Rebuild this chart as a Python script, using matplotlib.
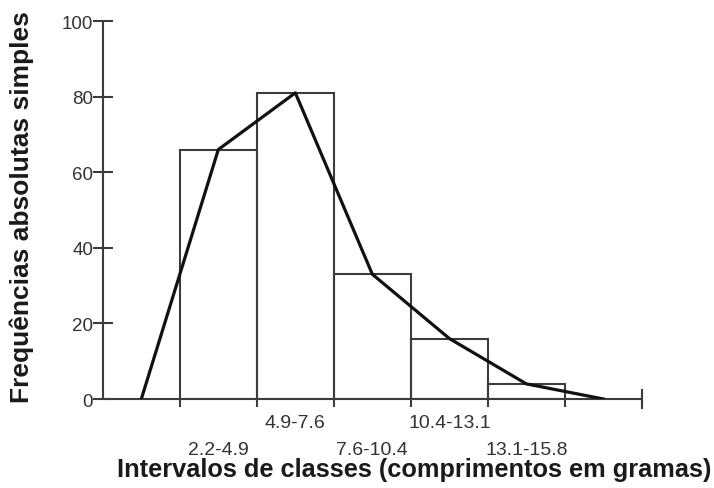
import numpy as np
from matplotlib import pyplot as plt
from matplotlib import transforms

classes = ["2.2-4.9", "4.9-7.6", "7.6-10.4", "10.4-13.1", "13.1-15.8"]
freqs = [66, 81, 33, 16, 4]
y_ticks = [0, 20, 40, 60, 80, 100]

plt.rcParams['font.family'] = ['Liberation Sans', 'DejaVu Sans']

fig = plt.figure(figsize=(7.14, 4.89), dpi=100)
ax = fig.add_axes([0.144, 0.182, 0.755, 0.773])

n = len(freqs)
edges = np.arange(n)
centers = edges + 0.5

# histogram bars
ax.bar(edges, freqs, width=1, align='edge', facecolor='none',
       edgecolor='#3c3c3c', linewidth=1.5, zorder=2)

# frequency polygon, closed at zero half a class on each side
px = np.concatenate([[centers[0] - 1], centers, [centers[-1] + 1]])
py = np.concatenate([[0], freqs, [0]])
ax.plot(px, py, color='#111111', linewidth=2.3, zorder=3)

ax.set_xlim(-1, n + 1)
ax.set_ylim(0, 100)
for s in ['top', 'right']:
    ax.spines[s].set_visible(False)
for s in ['left', 'bottom']:
    ax.spines[s].set_color('#3c3c3c')
    ax.spines[s].set_linewidth(1.5)
    ax.spines[s].set_capstyle('butt')

ax.set_yticks(y_ticks)
ax.tick_params(axis='y', direction='inout', length=14, width=1.5,
               color='#3c3c3c', labelsize=13.5, labelcolor='#333333', pad=0)
ax.set_xticks(np.arange(n + 2))
ax.set_xticklabels([])
ax.tick_params(axis='x', direction='out', length=6, width=1.5, color='#3c3c3c')
trans = transforms.blended_transform_factory(ax.transData, ax.transAxes)
# end tick crosses the axis
ax.plot([n + 1, n + 1], [-0.025, 0.025], color='#3c3c3c', linewidth=1.5,
        transform=trans, clip_on=False)

for i, lab in enumerate(classes):
    yoff = -0.11 if i % 2 == 0 else -0.04
    ax.text(centers[i], yoff, lab, transform=trans, ha='center', va='top',
            fontsize=14, color='#333333')

fig.text(0.031, 0.576, 'Frequências absolutas simples', rotation=90,
         ha='center', va='center', fontsize=19, fontweight='bold', color='#1a1a1a')
fig.text(0.5805, 0.039, 'Intervalos de classes (comprimentos em gramas)',
         ha='center', va='center', fontsize=18.3, fontweight='bold', color='#1a1a1a')

fig.savefig('out.png', dpi=100)
